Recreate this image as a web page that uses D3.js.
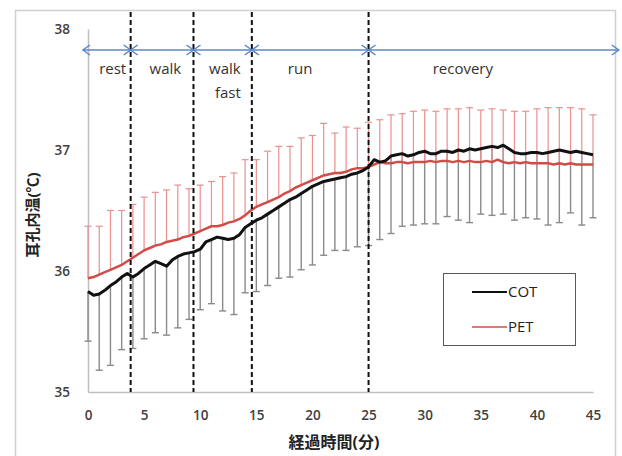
<!DOCTYPE html>
<html>
<head>
<meta charset="utf-8">
<script src="https://cdn.jsdelivr.net/npm/d3@7"></script>
<style>
  body { margin: 0; background: #fff; }
  svg { display: block; }
  text { font-family: "Open Sans", "Noto Sans CJK JP", sans-serif; }
</style>
</head>
<body>
<svg id="chart" width="622" height="456"></svg>
<script>
// Sampling times (minutes) of the averaged ear-canal temperature traces
const sampleMinutes = [
  0,0.5,1,1.5,2,2.5,3,3.5,4,4.5,5,5.5,6,6.5,7,7.5,8,8.5,9,9.5,
  10,10.5,11,11.5,12,12.5,13,13.5,14,14.5,15,15.5,16,16.5,17,17.5,18,18.5,19,19.5,
  20,20.5,21,21.5,22,22.5,23,23.5,24,24.5,25,25.5,26,26.5,27,27.5,28,28.5,29,29.5,
  30,30.5,31,31.5,32,32.5,33,33.5,34,34.5,35,35.5,36,36.5,37,37.5,38,38.5,39,39.5,
  40,40.5,41,41.5,42,42.5,43,43.5,44,44.5,45
];
// COT mean (°C)
const cotMean = [
  35.83,35.80,35.81,35.84,35.88,35.91,35.95,35.98,35.95,35.98,36.02,36.05,36.08,36.06,36.04,36.09,36.12,36.14,36.15,36.16,
  36.18,36.24,36.26,36.28,36.27,36.26,36.27,36.30,36.36,36.39,36.42,36.44,36.47,36.50,36.53,36.56,36.59,36.61,36.64,36.67,
  36.70,36.72,36.74,36.75,36.76,36.77,36.78,36.80,36.81,36.83,36.86,36.92,36.90,36.91,36.95,36.96,36.97,36.95,36.96,36.98,
  36.99,36.97,36.97,36.99,36.99,36.98,37.00,36.99,37.01,37.00,37.01,37.02,37.03,37.02,37.04,37.01,36.98,36.97,36.97,36.98,
  36.98,36.97,36.98,36.99,37.00,36.99,36.98,36.99,36.98,36.97,36.96
];
// PET mean (°C)
const petMean = [
  35.94,35.95,35.97,35.99,36.01,36.03,36.05,36.08,36.11,36.14,36.17,36.19,36.21,36.22,36.24,36.25,36.26,36.28,36.29,36.31,
  36.33,36.35,36.37,36.37,36.38,36.40,36.41,36.43,36.46,36.50,36.53,36.55,36.57,36.59,36.61,36.64,36.66,36.69,36.71,36.73,
  36.75,36.77,36.79,36.80,36.81,36.81,36.82,36.84,36.85,36.85,36.86,36.88,36.90,36.89,36.89,36.90,36.90,36.89,36.90,36.90,
  36.90,36.91,36.90,36.91,36.91,36.90,36.91,36.90,36.91,36.90,36.90,36.91,36.90,36.92,36.90,36.89,36.90,36.89,36.90,36.89,
  36.89,36.89,36.89,36.88,36.89,36.88,36.89,36.88,36.88,36.88,36.88
];
// Error bars every minute: PET mean + SD (upward), COT mean − SD (downward)
const barMinutes = [
  0,1,2,3,4,5,6,7,8,9,10,11,12,13,14,15,16,17,18,19,20,21,22,23,
  24,25,26,27,28,29,30,31,32,33,34,35,36,37,38,39,40,41,42,43,44,45
];
const petUpper = [
  36.37,36.37,36.50,36.50,36.55,36.61,36.65,36.67,36.71,36.68,36.71,36.74,36.78,36.81,36.92,36.92,
  36.99,37.03,37.03,37.10,37.12,37.22,37.14,37.19,37.18,37.23,37.25,37.29,37.30,37.32,37.33,37.32,
  37.34,37.34,37.35,37.33,37.34,37.33,37.32,37.32,37.34,37.35,37.35,37.35,37.34,37.29
];
const cotLower = [
  35.42,35.18,35.22,35.35,35.36,35.44,35.49,35.47,35.53,35.60,35.68,35.73,35.67,35.64,35.82,35.83,
  35.88,35.94,35.95,36.01,36.05,36.13,36.17,36.17,36.20,36.21,36.26,36.31,36.37,36.38,36.39,36.39,
  36.45,36.42,36.40,36.47,36.46,36.47,36.42,36.44,36.43,36.38,36.40,36.48,36.38,36.44
];
// Axis ticks
const xTicks = [0,5,10,15,20,25,30,35,40,45];
const yTicks = [35,36,37,38];
// Exercise phases (minutes)
const phaseDividers = [3.8, 9.4, 14.6, 25];
const phaseSpans = [[-0.45,3.8],[3.8,9.4],[9.4,14.6],[14.6,25],[25,47.3]];
const phaseNames = [["rest"],["walk"],["walk","fast"],["run"],["recovery"]];
const phaseLabelAt = [2.2, 6.9, 12.2, 18.9, 33.4];
const seriesNames = ["COT","PET"];
const seriesColors = ["#111111","#d24b47"];

const svg = d3.select("#chart");
const x = d3.scaleLinear().domain([0,45]).range([88,593]);
const y = d3.scaleLinear().domain([35,38]).range([392,29]);

// outer chart frame (left, top, right)
svg.append("path")
  .attr("d","M15.5,456 L15.5,10.5 L615.5,10.5 L615.5,456")
  .attr("fill","none").attr("stroke","#d0d0d0").attr("stroke-width",1.5);

// axes
const yAxis = svg.append("g").attr("transform",`translate(${x(0)},0)`)
  .call(d3.axisLeft(y).tickValues(yTicks).tickSize(0).tickPadding(18).tickFormat(d3.format("d")));
const xAxis = svg.append("g").attr("transform",`translate(0,${y(35)})`)
  .call(d3.axisBottom(x).tickValues(xTicks).tickSize(0).tickPadding(18).tickFormat(d3.format("d")));
[yAxis, xAxis].forEach(g => {
  g.select(".domain").attr("stroke","#bfbfbf").attr("stroke-width",1.5);
  g.selectAll("text").attr("font-size",13.5).attr("fill","#404040").attr("font-weight",600);
});

// error bars
const capW = 3.5;
const petIdx = barMinutes.map(m => sampleMinutes.indexOf(m));
const bars = svg.append("g");
barMinutes.forEach((m,i) => {
  const bx = x(m);
  const j = petIdx[i];
  bars.append("line").attr("x1",bx).attr("x2",bx)
    .attr("y1",y(cotMean[j])).attr("y2",y(cotLower[i]))
    .attr("stroke","#8a8a8a").attr("stroke-width",1.4);
  bars.append("line").attr("x1",bx-capW).attr("x2",bx+capW)
    .attr("y1",y(cotLower[i])).attr("y2",y(cotLower[i]))
    .attr("stroke","#8a8a8a").attr("stroke-width",1.4);
  bars.append("line").attr("x1",bx).attr("x2",bx)
    .attr("y1",y(petMean[j])).attr("y2",y(petUpper[i]))
    .attr("stroke","#eb8f8f").attr("stroke-width",1.2);
  bars.append("line").attr("x1",bx-capW).attr("x2",bx+capW)
    .attr("y1",y(petUpper[i])).attr("y2",y(petUpper[i]))
    .attr("stroke","#eb8f8f").attr("stroke-width",1.2);
});

// mean traces
const line = d3.line().x((d,i) => x(sampleMinutes[i])).y(d => y(d));
svg.append("path").datum(petMean).attr("d",line)
  .attr("fill","none").attr("stroke",seriesColors[1]).attr("stroke-width",2.5).attr("stroke-linejoin","round");
svg.append("path").datum(cotMean).attr("d",line)
  .attr("fill","none").attr("stroke",seriesColors[0]).attr("stroke-width",3).attr("stroke-linejoin","round");

// phase dividers
svg.append("g").selectAll("line").data(phaseDividers).join("line")
  .attr("x1",d => x(d)).attr("x2",d => x(d))
  .attr("y1",12).attr("y2",y(35))
  .attr("stroke","#111").attr("stroke-width",2).attr("stroke-dasharray","5,3");

// phase arrows
const ay = 50, head = 7;
const arrows = svg.append("g").attr("fill","none").attr("stroke","#5b87c8").attr("stroke-width",1.5);
phaseSpans.forEach(([a,b]) => {
  const x1 = x(a), x2 = x(b);
  arrows.append("line").attr("x1",x1).attr("x2",x2).attr("y1",ay).attr("y2",ay);
  arrows.append("path").attr("d",`M${x1+head},${ay-5}L${x1},${ay}L${x1+head},${ay+5}`);
  arrows.append("path").attr("d",`M${x2-head},${ay-5}L${x2},${ay}L${x2-head},${ay+5}`);
});

// phase labels
phaseNames.forEach((lines,i) => {
  lines.forEach((t,k) => {
    svg.append("text").attr("x",x(phaseLabelAt[i]) + k*3).attr("y",74 + k*24)
      .attr("text-anchor","middle").attr("font-size",15).attr("fill","#333")
      .text(t);
  });
});

// axis titles
svg.append("text").attr("transform","translate(38,215) rotate(-90)")
  .attr("text-anchor","middle").attr("font-size",15).attr("font-weight",700)
  .attr("fill","#222").attr("font-family","'Noto Sans CJK JP', sans-serif")
  .text("耳孔内温(℃)");
svg.append("text").attr("x",334).attr("y",448)
  .attr("text-anchor","middle").attr("font-size",16).attr("font-weight",700)
  .attr("fill","#222").attr("font-family","'Noto Sans CJK JP', sans-serif")
  .text("経過時間(分)");

// legend
const lg = svg.append("g");
lg.append("rect").attr("x",443.5).attr("y",273.5).attr("width",132).attr("height",72)
  .attr("fill","#fff").attr("stroke","#595959").attr("stroke-width",1);
seriesNames.forEach((n,i) => {
  const ly = 292 + i*35;
  lg.append("line").attr("x1",472).attr("x2",507).attr("y1",ly).attr("y2",ly)
    .attr("stroke",seriesColors[i]).attr("stroke-width",i ? 1.5 : 2);
  lg.append("text").attr("x",508).attr("y",ly).attr("dy","0.36em")
    .attr("font-size",15).attr("fill","#222").text(n);
});
</script>
</body>
</html>
